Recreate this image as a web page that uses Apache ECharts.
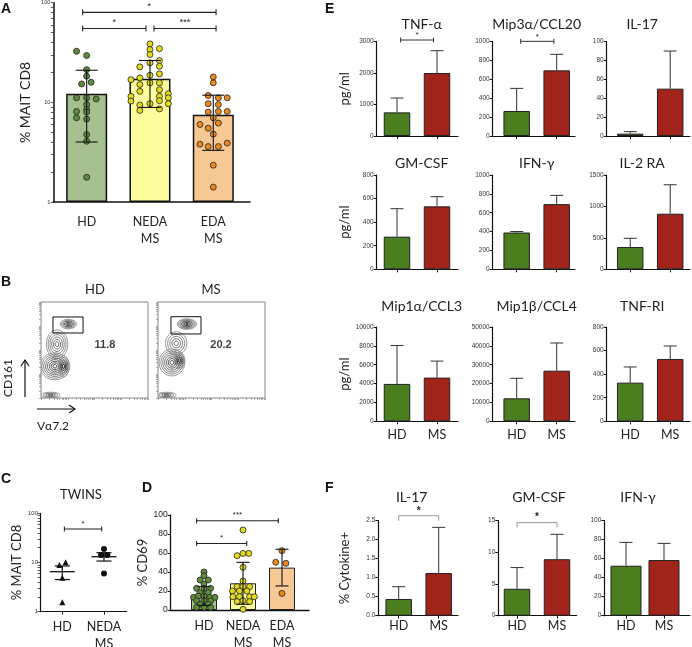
<!DOCTYPE html>
<html><head><meta charset="utf-8">
<script src="https://cdn.jsdelivr.net/npm/echarts@6/dist/echarts.min.js"></script>
<style>html,body{margin:0;padding:0;background:#fff}#c{width:692px;height:647px}</style>
</head><body><div id="c"></div>
<script>
// ================= DATA =================
// Panel A : % MAIT CD8 (log)
const groupsA = ['HD', 'NEDA\nMS', 'EDA\nMS'];
const meanA = [12.2, 17.3, 7.5];
const sdLowA = [4.0, 8.9, 3.3];
const sdHighA = [21.0, 26.3, 11.8];
// [jitter, value]
const dotsA_HD = [[-0.16,32.6],[0,29.5],[0,21.3],[0,18.3],[-0.08,15.3],[0.07,15.9],[-0.16,11.1],[0,11.1],[0.15,10.8],[0,9.5],[0,8.5],[-0.16,8.1],[0,8.0],[-0.16,7.0],[0,6.8],[0,4.75],[0,4.07],[0,1.77]];
const dotsA_NEDA = [[0,38.6],[0.15,34.6],[0,33.9],[0,30.2],[0.15,26.3],[0,24.9],[-0.16,22.7],[0.15,23.0],[0.15,19.3],[0,18.7],[-0.16,17.6],[-0.3,16.9],[0,15.7],[0.15,15.7],[-0.16,15.1],[0.15,13.4],[-0.16,12.9],[0.29,12.2],[-0.3,11.5],[0.15,11.5],[0.29,11.1],[-0.3,10.3],[0.15,10.4],[0,9.7],[0.29,9.7],[-0.16,9.4],[0.15,8.6],[-0.16,8.3]];
const dotsA_EDA = [[0,18.0],[0,15.7],[-0.08,11.7],[0.08,11.1],[0.22,11.1],[-0.08,9.7],[0.08,9.5],[-0.08,8.0],[0.08,8.1],[0.22,8.1],[0,7.0],[-0.21,6.0],[0.08,6.2],[-0.08,5.5],[0,4.8],[-0.21,3.8],[-0.08,3.6],[0.08,3.6],[0.22,3.9],[0,2.34],[0,1.41]];
const sigA = [[0.937, 3.044, 80], [0.937, 1.937, 55], [2.063, 3.044, 55]];
const sigA_text = ['*', '*', '***'];

// Panel B : flow plots (contour clusters: cx, cy, rx, ry, rings, grey level)
const flowTitles = ['HD', 'MS'];
const flowClusters = [
  [[25.5,77,7.5,5,6,0.0],[15,56,10,15,6,0.3],[13,33,14,14,8,0.1],[21,33,5,11,5,0.0],[9,3,9,3,4,0.1]],
  [[27,77,9,5.5,7,0.0],[17,57,10,12,5,0.3],[13,37,12,14,7,0.1],[20,39,5,9,5,0.0],[8,3,9,3,4,0.1]]
];
const flowGates = [[11.2,67.7,39.3,84.4],[12.1,66.7,40.2,84.7]];
const flowGateLabels = [[59.8,55.2],[58.9,55.2]];
const flowGateValues = ['11.8', '20.2'];

// Panel C : TWINS
const groupsC = ['HD', 'NEDA\nMS'];
const meanC = [6.5, 13.1];
const semLowC = [4.5, 10.7];
const semHighC = [8.5, 15.8];
const dotsC_HD = [[-0.07,8.9],[0.08,10.1],[0,4.9],[0,1.55]];
const dotsC_NEDA = [[0,18.8],[-0.07,14.2],[0.08,14.2],[0,6.0]];
const sigC = [[1.05, 1.945, 48]];
const sigC_text = ['*'];

// Panel D : % CD69
const groupsD = ['HD', 'NEDA\nMS', 'EDA\nMS'];
const meanD = [14.7, 28.1, 44.6];
const sdLowD = [4.8, 6.0, 25.3];
const sdHighD = [24.6, 50.2, 63.9];
const dotsD_HD = [[0,40],[0,36],[-0.1,31.6],[0.11,31.6],[0,27.4],[-0.19,22.8],[0,22.8],[0.17,22.8],[-0.1,18.2],[0.11,18.2],[-0.27,13.3],[-0.15,14.7],[0,14.7],[0.15,13.3],[0.28,13.3],[-0.19,9.8],[0,9.8],[0.17,9.8],[-0.1,6],[0.11,6],[-0.19,2.8],[0,2.8],[0.17,2.8]];
const dotsD_NEDA = [[0,84.2],[-0.15,57.2],[0,59.6],[0.15,59.6],[0,44.9],[0,30.5],[-0.15,24.6],[0,24.6],[0.17,24.6],[-0.27,20],[-0.09,20],[0.1,20],[-0.26,14],[-0.09,14],[0.17,14],[0.29,14],[-0.15,8.8],[0,9.8],[0.17,8.8],[0,0.7]];
const dotsD_EDA = [[0,62.5],[-0.16,50.2],[0.1,49.1],[0,17.5]];
const yTicksD = [0, 20, 40, 60, 80, 100];
const sigD = [[0.81, 2.905, 94], [0.81, 2.095, 70]];
const sigD_text = ['***', '*'];

// Panel E : cytokines pg/ml
const groupsHM = ['HD', 'MS'];
const cytoE = ['TNF-α','Mip3α/CCL20','IL-17','GM-CSF','IFN-γ','IL-2 RA','Mip1α/CCL3','Mip1β/CCL4','TNF-RI'];
const meanE_HD = [752, 265, 2.5, 277, 390, 354, 3965, 12190, 328];
const meanE_MS = [2003, 696, 50.2, 534, 691, 884, 4632, 26855, 529];
const errE_HD = [1208, 505, 4.6, 514, 401, 493, 8035, 22790, 461];
const errE_MS = [2714, 866, 90.1, 616, 784, 1345, 6386, 41520, 639];
const maxE = [3000, 1000, 100, 800, 1000, 1500, 10000, 50000, 800];
const stepE = [1000, 200, 20, 200, 200, 500, 2000, 10000, 200];
const sigE = [[0, 1.09, 1.914, 3054], [1, 1.1, 1.93, 1004]];

// Panel F : % cytokine+
const cytoF = ['IL-17', 'GM-CSF', 'IFN-γ'];
const meanF_HD = [0.44, 4.25, 52.6];
const meanF_MS = [1.123, 8.92, 58.6];
const errF_HD = [0.763, 7.6, 77.2];
const errF_MS = [2.325, 12.85, 76.1];
const maxF = [2.5, 15, 100];
const stepF = [0.5, 5, 20];
const sigF = [[0, 1, 2, 2.63], [1, 1, 2, 14.7]];

// ================= STYLE / LAYOUT =================
const FONT = 'Lato, "Open Sans", sans-serif';
const TF = '"Liberation Sans", Arial, sans-serif';
const colA = ['#a6c08f', '#fdfd9e', '#f6c894'];
const dotCol = ['#5e8c3a', '#e2da1e', '#ea8a1e'];
const GREEN = '#4a7e1e', RED = '#a2231a';

const grids = [], xAxes = [], yAxes = [], series = [], graphics = [];
function addGrid(g) { grids.push(Object.assign({outerBoundsMode:'none', containLabel:false}, g)); return grids.length - 1; }
const logTicks = []; [1, 10].forEach(d => { for (let m = 1; m <= 9; m++) logTicks.push(d * m); }); logTicks.push(100);

function errRender(capPx, both, color, lw) {
  return function (params, api) {
    const x = api.value(0), lo = api.value(1), hi = api.value(2);
    const p1 = api.coord([x, lo]), p2 = api.coord([x, hi]);
    const st = {stroke: color, lineWidth: lw};
    const ch = [
      {type:'line', shape:{x1:p1[0], y1:p1[1], x2:p2[0], y2:p2[1]}, style:st},
      {type:'line', shape:{x1:p2[0]-capPx, y1:p2[1], x2:p2[0]+capPx, y2:p2[1]}, style:st}
    ];
    if (both) ch.push({type:'line', shape:{x1:p1[0]-capPx, y1:p1[1], x2:p1[0]+capPx, y2:p1[1]}, style:st});
    return {type:'group', children:ch};
  };
}
function sigRender(texts, mode, tickPx, color, lw, font, gap) {
  return function (params, api) {
    const a = api.coord([api.value(0), api.value(2)]);
    const b = api.coord([api.value(1), api.value(2)]);
    const st = {stroke: color, lineWidth: lw};
    const t0 = mode === 'down' ? 0 : -tickPx;
    return {type:'group', children:[
      {type:'line', shape:{x1:a[0], y1:a[1], x2:b[0], y2:b[1]}, style:st},
      {type:'line', shape:{x1:a[0], y1:a[1]+t0, x2:a[0], y2:a[1]+tickPx}, style:st},
      {type:'line', shape:{x1:b[0], y1:b[1]+t0, x2:b[0], y2:b[1]+tickPx}, style:st},
      {type:'text', x:(a[0]+b[0])/2, y:a[1]-gap, style:{text:texts[params.dataIndex], font:font, fill:'#222', textAlign:'center', textVerticalAlign:'middle'}}
    ]};
  };
}
function hLine(halfPx, color, lw) {
  return function (params, api) {
    const p = api.coord([api.value(0), api.value(1)]);
    return {type:'line', shape:{x1:p[0]-halfPx, y1:p[1], x2:p[0]+halfPx, y2:p[1]}, style:{stroke:color, lineWidth:lw}};
  };
}
function ax(gi, o) { return Object.assign({gridIndex:gi, splitLine:{show:false}}, o); }
function dots(gi, arr, center, color, size, symbol, border) {
  series.push({type:'scatter', xAxisIndex:gi, yAxisIndex:gi, z:3, symbol:symbol||'circle', symbolSize:size,
    itemStyle:{color:color, borderColor: border===undefined?'#222':border, borderWidth: border===null?0:0.8, opacity:1},
    data: arr.map(d => [center + d[0], d[1]]), silent:true});
}
const plain = v => String(v);

// ---------------- Panel A ----------------
let g = addGrid({left:53.3, top:2.7, width:196.7, height:199.3});
xAxes.push(ax(g, {type:'value', min:0.473, max:3.58, axisLine:{show:true, onZero:false, lineStyle:{color:'#111', width:1.5}},
  axisTick:{show:false}, axisLabel:{customValues:[1,2,3], formatter:v => groupsA[Math.round(v)-1], fontFamily:FONT, fontSize:12.5, color:'#222', margin:12, lineHeight:16.6}}));
yAxes.push(ax(g, {type:'log', logBase:10, min:1, max:100, axisLine:{show:true, lineStyle:{color:'#111', width:1.5}},
  axisTick:{show:true, length:2.5, customValues:logTicks, lineStyle:{color:'#333', width:0.8}},
  axisLabel:{customValues:[1,10,100], formatter:plain, fontFamily:TF, fontSize:5.5, color:'#333', margin:3},
  name:'% MAIT CD8', nameLocation:'middle', nameGap:21, nameTextStyle:{fontFamily:FONT, fontSize:14, color:'#222'}}));
series.push({type:'bar', xAxisIndex:g, yAxisIndex:g, barWidth:41, z:1, silent:true,
  itemStyle:{borderColor:'#111', borderWidth:1.5},
  data: meanA.map((v,i) => ({value:[i+1, v], itemStyle:{color:colA[i]}}))});
dots(g, dotsA_HD, 1, dotCol[0], 6);
dots(g, dotsA_NEDA, 2, dotCol[1], 6);
dots(g, dotsA_EDA, 3, dotCol[2], 6);
series.push({type:'custom', xAxisIndex:g, yAxisIndex:g, z:4, silent:true, renderItem:errRender(11, true, '#111', 1.1),
  data: meanA.map((v,i) => [i+1, sdLowA[i], sdHighA[i]])});
series.push({type:'custom', xAxisIndex:g, yAxisIndex:g, z:4, silent:true, renderItem:sigRender(sigA_text, 'ibeam', 3, '#222', 1.1, '9px ' + TF, 6), data:sigA});

// ---------------- Panel B ----------------
const bTicks = []; for (let d = 0; d < 4; d++) for (let m = 1; m < 10; m++) { const p = 25*d + 25*Math.log10(m); if (p <= 100) bTicks.push(+p.toFixed(2)); } bTicks.push(100);
const flowLeft = [41, 158];
flowTitles.forEach((t, k) => {
  const gi = addGrid({left:flowLeft[k], top:302, width:107, height:96, show:true, borderColor:'#888', borderWidth:1, backgroundColor:'#fff'});
  xAxes.push(ax(gi, {type:'value', min:0, max:100, axisLine:{show:false}, axisLabel:{show:false},
    axisTick:{show:true, length:2, customValues:bTicks, lineStyle:{color:'#888', width:0.7}}}));
  yAxes.push(ax(gi, {type:'value', min:0, max:100, axisLine:{show:false}, axisLabel:{show:false},
    axisTick:{show:true, length:2, customValues:bTicks, lineStyle:{color:'#888', width:0.7}}}));
  series.push({type:'custom', xAxisIndex:gi, yAxisIndex:gi, clip:true, silent:true, z:2,
    renderItem:function (params, api) {
      const c = api.coord([api.value(0), api.value(1)]);
      const s = api.size([api.value(2), api.value(3)]);
      const n = api.value(4), grey = api.value(5);
      const ch = [];
      for (let i = 1; i <= n; i++) {
        const f = i / n;
        const lv = Math.round(255 * (grey + (0.55 - grey) * f));
        ch.push({type:'ellipse', shape:{cx:c[0], cy:c[1], rx:s[0]*f, ry:s[1]*f},
          style:{fill:'none', stroke:'rgb(' + lv + ',' + lv + ',' + lv + ')', lineWidth:0.9}});
      }
      return {type:'group', children:ch};
    }, data: flowClusters[k]});
  series.push({type:'custom', xAxisIndex:gi, yAxisIndex:gi, silent:true, z:3,
    renderItem:function (params, api) {
      const a = api.coord([api.value(0), api.value(3)]);
      const b = api.coord([api.value(2), api.value(1)]);
      return {type:'rect', shape:{x:a[0], y:a[1], width:b[0]-a[0], height:b[1]-a[1]}, style:{fill:'none', stroke:'#111', lineWidth:1}};
    }, data:[flowGates[k]]});
  series.push({type:'scatter', xAxisIndex:gi, yAxisIndex:gi, symbolSize:0, silent:true, z:3,
    label:{show:true, position:'inside', formatter:() => flowGateValues[k], fontFamily:TF, fontWeight:'bold', fontSize:11, color:'#111'},
    data:[flowGateLabels[k]]});
  graphics.push({type:'text', x:flowLeft[k] + (k === 0 ? 54 : 53), y:290, style:{text:t, font:'13px ' + FONT, fill:'#222', textAlign:'center', textVerticalAlign:'middle'}});
});
// axis arrows
graphics.push({type:'polyline', shape:{points:[[25,397],[25,360]]}, style:{stroke:'#111', lineWidth:1.2, fill:'none'}});
graphics.push({type:'polyline', shape:{points:[[21,366],[25,360],[29,366]]}, style:{stroke:'#111', lineWidth:1.2, fill:'none'}});
graphics.push({type:'polyline', shape:{points:[[37,409],[75,409]]}, style:{stroke:'#111', lineWidth:1.2, fill:'none'}});
graphics.push({type:'polyline', shape:{points:[[69,405],[75,409],[69,413]]}, style:{stroke:'#111', lineWidth:1.2, fill:'none'}});
graphics.push({type:'text', x:8, y:378, rotation:Math.PI/2, style:{text:'CD161', font:'12px ' + FONT, fill:'#222', textAlign:'center', textVerticalAlign:'middle'}});
graphics.push({type:'text', x:37, y:426, style:{text:'Vα7.2', font:'12px ' + FONT, fill:'#222', textAlign:'left', textVerticalAlign:'middle'}});

// ---------------- Panel C ----------------
g = addGrid({left:40, top:513.3, width:86.7, height:98.4});
xAxes.push(ax(g, {type:'value', min:0.465, max:2.545, axisLine:{show:true, onZero:false, lineStyle:{color:'#111', width:1.2}},
  axisTick:{show:true, length:3, customValues:[1,2], lineStyle:{color:'#111'}},
  axisLabel:{customValues:[1,2], formatter:v => groupsC[Math.round(v)-1], fontFamily:FONT, fontSize:12.5, color:'#222', margin:7, lineHeight:16.6}}));
yAxes.push(ax(g, {type:'log', logBase:10, min:1, max:100, axisLine:{show:true, lineStyle:{color:'#111', width:1.2}},
  axisTick:{show:true, length:2.5, customValues:logTicks, lineStyle:{color:'#333', width:0.8}},
  axisLabel:{customValues:[1,10,100], formatter:plain, fontFamily:TF, fontSize:6, color:'#333', margin:2},
  name:'% MAIT CD8', nameLocation:'middle', nameGap:17, nameTextStyle:{fontFamily:FONT, fontSize:13, color:'#222'}}));
dots(g, dotsC_HD, 1, '#111', 6, 'triangle', null);
dots(g, dotsC_NEDA, 2, '#111', 6, 'circle', null);
series.push({type:'custom', xAxisIndex:g, yAxisIndex:g, z:4, silent:true, renderItem:hLine(12.5, '#111', 1.3), data: meanC.map((v,i) => [i+1, v])});
series.push({type:'custom', xAxisIndex:g, yAxisIndex:g, z:4, silent:true, renderItem:errRender(7.5, true, '#111', 1.2), data: meanC.map((v,i) => [i+1, semLowC[i], semHighC[i]])});
series.push({type:'custom', xAxisIndex:g, yAxisIndex:g, z:4, silent:true, renderItem:sigRender(sigC_text, 'ibeam', 2.5, '#222', 1.1, '8px ' + TF, 5), data:sigC});
graphics.push({type:'text', x:81, y:495, style:{text:'TWINS', font:'13px ' + FONT, fill:'#222', textAlign:'center', textVerticalAlign:'middle'}});

// ---------------- Panel D ----------------
g = addGrid({left:170.7, top:515, width:138.3, height:95});
xAxes.push(ax(g, {type:'value', min:0.146, max:3.692, axisLine:{show:true, onZero:false, lineStyle:{color:'#111', width:1.3}},
  axisTick:{show:false}, axisLabel:{customValues:[1,2,3], formatter:v => groupsD[Math.round(v)-1], fontFamily:FONT, fontSize:12.5, color:'#222', margin:8, lineHeight:16.6}}));
yAxes.push(ax(g, {type:'value', min:0, max:100, interval:20, axisLine:{show:true, lineStyle:{color:'#111', width:1.3}},
  axisTick:{show:true, length:3, lineStyle:{color:'#111'}},
  axisLabel:{customValues:yTicksD, formatter:plain, fontFamily:TF, fontSize:8.5, color:'#222', margin:3},
  name:'% CD69', nameLocation:'middle', nameGap:16, nameTextStyle:{fontFamily:FONT, fontSize:13, color:'#222'}}));
series.push({type:'bar', xAxisIndex:g, yAxisIndex:g, barWidth:26, z:1, silent:true,
  itemStyle:{borderColor:'#222', borderWidth:1},
  data: meanD.map((v,i) => ({value:[i+1, v], itemStyle:{color:colA[i]}}))});
dots(g, dotsD_HD, 1, dotCol[0], 6);
dots(g, dotsD_NEDA, 2, dotCol[1], 6);
dots(g, dotsD_EDA, 3, dotCol[2], 6);
series.push({type:'custom', xAxisIndex:g, yAxisIndex:g, z:4, silent:true, renderItem:errRender(6.5, true, '#111', 1.1),
  data: meanD.map((v,i) => [i+1, sdLowD[i], sdHighD[i]])});
series.push({type:'custom', xAxisIndex:g, yAxisIndex:g, z:4, silent:true, renderItem:sigRender(sigD_text, 'ibeam', 2.5, '#222', 1.1, '8px ' + TF, 6), data:sigD});

// ---------------- Panel E ----------------
const eLeft = [376.7, 492.7, 606.7], eWidth = [81.3, 82.3, 83.3];
const eMin = [0.4925, 0.4, 0.4125];
const eTop = [41.7, 175, 327];
const eTitleY = [24, 163, 306.5];
cytoE.forEach((name, i) => {
  const r = Math.floor(i / 3), c = i % 3;
  const gi = addGrid({left:eLeft[c], top:eTop[r], width:eWidth[c], height:94.3});
  xAxes.push(ax(gi, {type:'value', min:eMin[c], max:eMin[c] + eWidth[c]/40, axisLine:{show:true, onZero:false, lineStyle:{color:'#111', width:1.2}},
    axisTick:{show:true, length:3, customValues:[1,2], lineStyle:{color:'#111'}},
    axisLabel:{show: r === 2, customValues:[1,2], formatter:v => groupsHM[Math.round(v)-1], fontFamily:FONT, fontSize:12.5, color:'#222', margin:7}}));
  yAxes.push(ax(gi, Object.assign({type:'value', min:0, max:maxE[i], interval:stepE[i], axisLine:{show:true, lineStyle:{color:'#111', width:1.2}},
    axisTick:{show:true, length:3, lineStyle:{color:'#111'}},
    axisLabel:{formatter:plain, fontFamily:TF, fontSize:6.5, color:'#333', margin:3}},
    c === 0 ? {name:'pg/ml', nameLocation:'middle', nameGap:25, nameTextStyle:{fontFamily:FONT, fontSize:13, color:'#222'}} : {})));
  series.push({type:'custom', xAxisIndex:gi, yAxisIndex:gi, z:1, silent:true, renderItem:errRender(6.5, false, '#333', 1),
    data:[[1, meanE_HD[i], errE_HD[i]], [2, meanE_MS[i], errE_MS[i]]]});
  series.push({type:'bar', xAxisIndex:gi, yAxisIndex:gi, barWidth:26.5, z:2, silent:true,
    itemStyle:{borderColor:'#222', borderWidth:1},
    data:[{value:[1, meanE_HD[i]], itemStyle:{color:GREEN}}, {value:[2, meanE_MS[i]], itemStyle:{color:RED}}]});
  const sg = sigE.filter(s => s[0] === i);
  if (sg.length) series.push({type:'custom', xAxisIndex:gi, yAxisIndex:gi, z:4, silent:true,
    renderItem:sigRender(sg.map(() => '*'), 'ibeam', 2.5, '#333', 1, '8px ' + TF, 5), data: sg.map(s => [s[1], s[2], s[3]])});
  graphics.push({type:'text', x:eLeft[c] + [45, 44, 35.5][c], y:eTitleY[r], style:{text:name, font:'14px ' + FONT, fill:'#222', textAlign:'center', textVerticalAlign:'middle'}});
});

// ---------------- Panel F ----------------
const fLeft = [378.3, 498.3, 604.3], fWidth = [79.7, 78.4, 85.7];
const fMin = [0.49, 0.5325, 0.429], fSp = [40, 40, 38], fBar = [26.5, 26.5, 31];
cytoF.forEach((name, c) => {
  const gi = addGrid({left:fLeft[c], top:520.7, width:fWidth[c], height:95});
  xAxes.push(ax(gi, {type:'value', min:fMin[c], max:fMin[c] + fWidth[c]/fSp[c], axisLine:{show:true, onZero:false, lineStyle:{color:'#111', width:1.2}},
    axisTick:{show:true, length:3, customValues:[1,2], lineStyle:{color:'#111'}},
    axisLabel:{customValues:[1,2], formatter:v => groupsHM[Math.round(v)-1], fontFamily:FONT, fontSize:12.5, color:'#222', margin:4}}));
  yAxes.push(ax(gi, Object.assign({type:'value', min:0, max:maxF[c], interval:stepF[c], axisLine:{show:true, lineStyle:{color:'#111', width:1.2}},
    axisTick:{show:true, length:3, lineStyle:{color:'#111'}},
    axisLabel:{fontFamily:TF, fontSize:6.5, color:'#333', margin:3, formatter: v => c === 0 ? v.toFixed(1) : String(v)}},
    c === 0 ? {name:'% Cytokine+', nameLocation:'middle', nameGap:27, nameTextStyle:{fontFamily:FONT, fontSize:13, color:'#222'}} : {})));
  series.push({type:'custom', xAxisIndex:gi, yAxisIndex:gi, z:1, silent:true, renderItem:errRender(6.5, false, '#333', 1),
    data:[[1, meanF_HD[c], errF_HD[c]], [2, meanF_MS[c], errF_MS[c]]]});
  series.push({type:'bar', xAxisIndex:gi, yAxisIndex:gi, barWidth:fBar[c], z:2, silent:true,
    itemStyle:{borderColor:'#222', borderWidth:1},
    data:[{value:[1, meanF_HD[c]], itemStyle:{color:GREEN}}, {value:[2, meanF_MS[c]], itemStyle:{color:RED}}]});
  const sg = sigF.filter(s => s[0] === c);
  if (sg.length) series.push({type:'custom', xAxisIndex:gi, yAxisIndex:gi, z:4, silent:true,
    renderItem:sigRender(sg.map(() => '*'), 'down', 5, '#999', 1, 'bold 10px ' + TF, 5), data: sg.map(s => [s[1], s[2], s[3]])});
  graphics.push({type:'text', x:[411.7, 539, 638][c], y:497, style:{text:name, font:'14px ' + FONT, fill:'#222', textAlign:'center', textVerticalAlign:'middle'}});
});

// panel letters
[['A',1,2],['B',1,275],['C',1,472],['D',142,481],['E',325,2],['F',325,481]].forEach(l => {
  graphics.push({type:'text', x:l[1], y:l[2], style:{text:l[0], font:'bold 14px ' + TF, fill:'#111', textAlign:'left', textVerticalAlign:'top'}});
});

const chart = echarts.init(document.getElementById('c'), null, {renderer:'canvas', width:692, height:647});
chart.setOption({animation:false, backgroundColor:'#fff', grid:grids, xAxis:xAxes, yAxis:yAxes, series:series, graphic:graphics});
</script></body></html>
